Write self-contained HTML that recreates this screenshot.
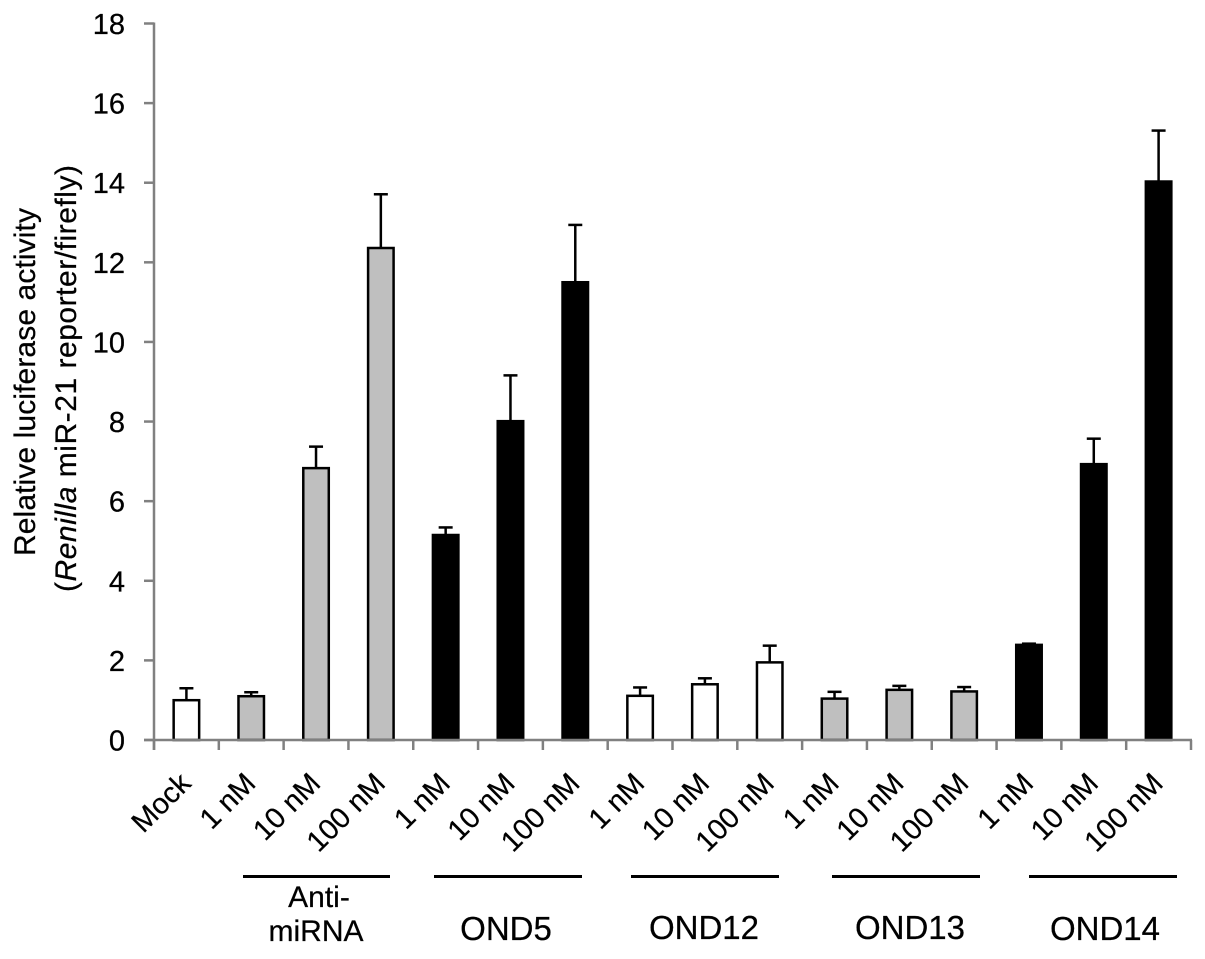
<!DOCTYPE html>
<html lang="en">
<head>
<meta charset="utf-8">
<title>Relative luciferase activity chart</title>
<style>
html,body{margin:0;padding:0;background:#fff;}
svg{display:block;font-family:"Liberation Sans",sans-serif;fill:#000;}
text{stroke:#000;stroke-width:0.25px;}
</style>
</head>
<body>
<svg id="chart" xmlns="http://www.w3.org/2000/svg" width="1205" height="959" viewBox="0 0 1205 959">
  <rect x="0" y="0" width="1205" height="959" fill="#fff"/>
  <g id="bars"></g>
  <g id="axes"></g>

  <text transform="translate(35,556) rotate(-90)" font-size="30" textLength="348" lengthAdjust="spacing">Relative luciferase activity</text>
  <text transform="translate(76,592) rotate(-90)" font-size="30" textLength="427" lengthAdjust="spacing">(<tspan font-style="italic">Renilla</tspan> miR-21 reporter/firefly)</text>

  <g font-size="33" text-anchor="middle">
    <rect x="243" y="875" width="147" height="3"/>
    <rect x="434" y="875" width="148" height="3"/>
    <rect x="631" y="875" width="148" height="3"/>
    <rect x="832" y="875" width="148" height="3"/>
    <rect x="1029" y="875" width="148" height="3"/>
    <text x="319" y="907" font-size="30">Anti-</text>
    <text x="316" y="941" font-size="30">miRNA</text>
    <text x="506" y="940" font-size="33">OND5</text>
    <text x="704" y="939" font-size="33">OND12</text>
    <text x="910" y="939" font-size="33">OND13</text>
    <text x="1105" y="940" font-size="33">OND14</text>
  </g>
</svg>
<script>
const categories = ["Mock","1 nM","10 nM","100 nM","1 nM","10 nM","100 nM","1 nM","10 nM","100 nM","1 nM","10 nM","100 nM","1 nM","10 nM","100 nM"];
const seriesGroups = ["Mock","Anti-miRNA","Anti-miRNA","Anti-miRNA","OND5","OND5","OND5","OND12","OND12","OND12","OND13","OND13","OND13","OND14","OND14","OND14"];
const means = [1.0,1.1,6.83,12.36,5.15,8.01,11.5,1.11,1.4,1.95,1.04,1.26,1.22,2.39,6.93,14.03];
const errors = [0.3,0.1,0.54,1.35,0.19,1.15,1.44,0.21,0.15,0.42,0.17,0.1,0.11,0.03,0.64,1.28];
const yTicks = [0,2,4,6,8,10,12,14,16,18];

const groupFill = {"Mock":"#fff","Anti-miRNA":"#bfbfbf","OND5":"#000","OND12":"#fff","OND13":"#bfbfbf","OND14":"#000"};
const NS = "http://www.w3.org/2000/svg";
const plot = {left:154,right:1191,top:23.5,bottom:740};
const yMax = yTicks[yTicks.length-1];
function yScale(v){ return plot.bottom-(v/yMax)*(plot.bottom-plot.top); }
function bandStep(){ return (plot.right-plot.left)/categories.length; }
function xEdge(i){ return plot.left+i*bandStep(); }
function xCenter(i){ return xEdge(i)+bandStep()/2; }
function make(tag,attrs,parent){
  const el=document.createElementNS(NS,tag);
  for(const k in attrs){ el.setAttribute(k,attrs[k]); }
  parent.appendChild(el);
  return el;
}
const barsG=document.getElementById("bars");
const axesG=document.getElementById("axes");
const barWidth=25.5;
const capHalf=7;
const axisColor="#808080";

means.forEach(function(v,i){
  const cx=xCenter(i), top=yScale(v), errTop=yScale(v+errors[i]);
  const stem=make("line",{x1:cx,x2:cx,y1:top,y2:errTop,stroke:"#000","stroke-width":2.5},barsG);
  
  
  const cap=make("line",{x1:cx-capHalf,x2:cx+capHalf,y1:errTop,y2:errTop,stroke:"#000","stroke-width":2.5},barsG);
  
  
  const bar=make("rect",{x:cx-barWidth/2,y:top,width:barWidth,height:plot.bottom-top,fill:groupFill[seriesGroups[i]],stroke:"#000","stroke-width":2.5},barsG);
  
  
});

const yAxis=make("line",{x1:plot.left,x2:plot.left,y1:plot.top-1,y2:plot.bottom+10,stroke:axisColor,"stroke-width":2.5},axesG);


const xAxis=make("line",{x1:plot.left-10,x2:plot.right+1,y1:plot.bottom,y2:plot.bottom,stroke:axisColor,"stroke-width":2.5},axesG);



yTicks.forEach(function(t){
  const y=yScale(t);
  const tick=make("line",{x1:plot.left-10,x2:plot.left,y1:y,y2:y,stroke:axisColor,"stroke-width":2.5},axesG);
  
  
  const label=make("text",{x:125,y:y+10.5,"text-anchor":"end","font-size":29},axesG);
  
  
  label.textContent=t;
});

for(let i=0;i<=categories.length;i++){
  const x=xEdge(i);
  const tick=make("line",{x1:x,x2:x,y1:plot.bottom,y2:plot.bottom+10,stroke:axisColor,"stroke-width":2.5},axesG);
  
  
}

categories.forEach(function(c,i){
  const ax=xCenter(i)+6, ay=785;
  const label=make("text",{x:ax,y:ay,"text-anchor":"end","font-size":29,transform:"rotate(-45 "+ax+" "+ay+")"},axesG);
  
  
  label.textContent=c;
});
</script>
</body>
</html>
